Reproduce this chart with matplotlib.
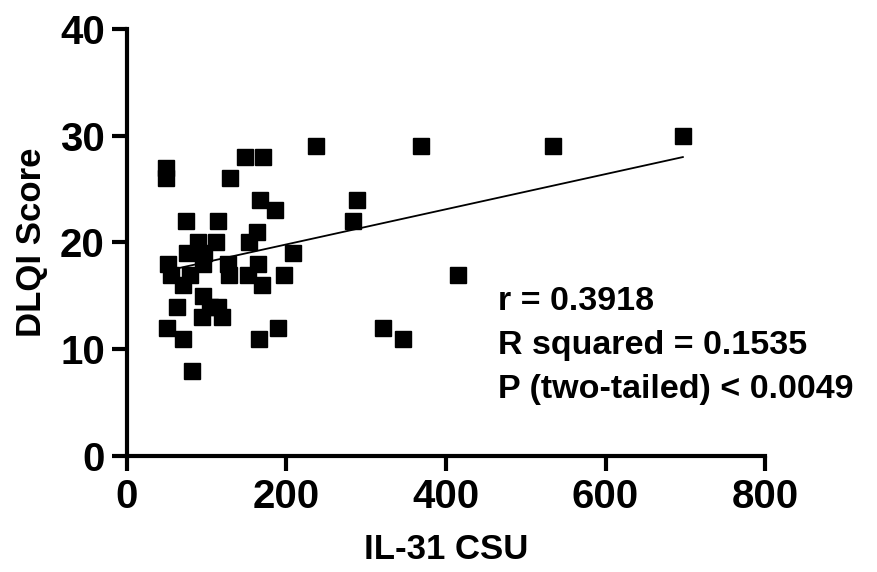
import numpy as np
import matplotlib.pyplot as plt

# IL-31 vs DLQI
il31 = [49, 49, 148, 170, 129, 167, 186, 74, 114, 89, 112, 163, 153, 75, 97, 95,
        51, 55, 79, 70, 127, 128, 164, 152, 169, 208, 197, 95, 63, 104, 114, 94,
        119, 50, 70, 189, 166, 81, 237, 369, 534, 697, 288, 283, 415, 321, 346]
dlqi = [27, 26, 28, 28, 26, 24, 23, 22, 22, 20, 20, 21, 20, 19, 19, 18,
        18, 17, 17, 16, 18, 17, 18, 17, 16, 19, 17, 15, 14, 14, 14, 13,
        13, 12, 11, 12, 11, 8, 29, 29, 29, 30, 24, 22, 17, 12, 11]
stats_lines = ['r = 0.3918', 'R squared = 0.1535', 'P (two-tailed) < 0.0049']

plt.rcParams['font.family'] = ['Liberation Sans', 'DejaVu Sans']
plt.rcParams['font.weight'] = 'bold'

fig = plt.figure(figsize=(8.77, 5.72), dpi=100)
ax = fig.add_axes([0.1448, 0.2028, 0.7275, 0.7465])

x = np.array(il31, dtype=float)
y = np.array(dlqi, dtype=float)
ax.plot(x, y, 's', color='black', markersize=11.5, zorder=3, clip_on=False)

# 线性回归
k, b = np.polyfit(x, y, 1)
xs = np.array([x.min(), x.max()])
ax.plot(xs, k * xs + b + 0.3, color='black', lw=1.3, zorder=2)

ax.set_xlim(0, 800)
ax.set_ylim(0, 40)
ax.set_xticks([0, 200, 400, 600, 800])
ax.set_yticks([0, 10, 20, 30, 40])
ax.spines['top'].set_visible(False)
ax.spines['right'].set_visible(False)
ax.spines['left'].set_linewidth(3)
ax.spines['bottom'].set_linewidth(3)
ax.tick_params(width=3, length=11, labelsize=29, pad=5)
for lab in ax.get_xticklabels() + ax.get_yticklabels():
    lab.set_fontweight('bold')

ax.set_xlabel('IL-31 CSU', fontsize=25, fontweight='bold', labelpad=12)
ax.set_ylabel('DLQI Score', fontsize=25, fontweight='bold', labelpad=9)

for i, s in enumerate(stats_lines):
    ax.text(465, 14.5 - i * 4.15, s, fontsize=24.5, fontweight='bold', va='center', ha='left')

fig.savefig('out.png', dpi=100)
